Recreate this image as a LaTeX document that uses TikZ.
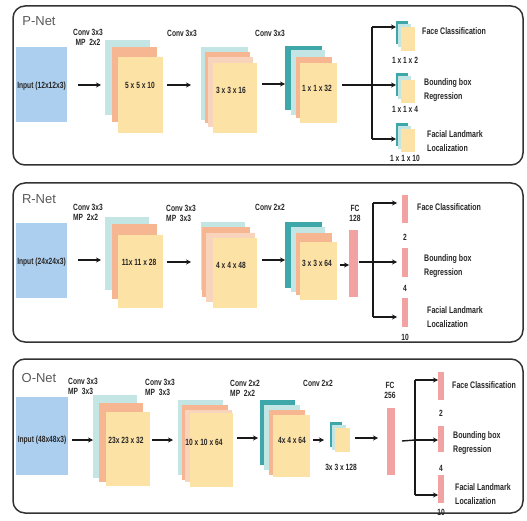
\documentclass[tikz,border=0pt]{standalone}
\usepackage{fontspec}
\setmainfont{Liberation Sans}
\newfontfamily\nf[FakeStretch=0.74]{Liberation Sans}
\usetikzlibrary{arrows.meta}
\definecolor{cy}{HTML}{C3E5E3}
\definecolor{sal}{HTML}{F6B692}
\definecolor{pea}{HTML}{F9D4BC}
\definecolor{fr}{HTML}{FDE2A6}
\definecolor{teal2}{HTML}{3DA7AA}
\definecolor{inb}{HTML}{ADCFEF}
\definecolor{fcp}{HTML}{F3A2A2}
\definecolor{bord}{HTML}{333333}
\tikzset{
 lay/.style={rectangle,draw=none,inner sep=0pt,outer sep=0pt},
 panel/.style={draw=bord,line width=1.5pt,rounded corners=12pt},
 title/.style={font=\fontsize{13}{13}\selectfont,text=black!65,inner sep=0pt},
 txt/.style={font=\nf\bfseries\fontsize{9}{10}\selectfont,text=black!85,inner sep=0pt,align=center},
 outt/.style={font=\nf\bfseries\fontsize{9.5}{14}\selectfont,text=black!85,inner sep=0pt,align=left,anchor=west},
 arr/.style={-{Stealth[length=5pt,width=5pt]},line width=1.6pt,black!90},
 br/.style={line width=1.4pt,black!90},
}
\newcommand\lay[6]{\node[lay,fill=#2,minimum width={(#5)-(#3)},minimum height={(#6)-(#4)}] (#1) at ({((#3)+(#5))/2},{((#4)+(#6))/2}) {};}
\begin{document}
\begin{tikzpicture}[x=1pt,y=-1pt]
\useasboundingbox (0,0) rectangle (527,521);
% ================= P-Net =================
\node[panel,minimum width=510pt,minimum height=159pt,inner sep=0pt] (pp) at (268,85.5) {};
\node[title] (pt) at (39,21) {P-Net};
\lay{pin}{inb}{16}{47}{67}{122}
\node[txt] (pint) at (41.5,86) {Input (12x12x3)};
\node[txt] (pc1) at (88,37) {Conv 3x3\\MP\ \ 2x2};
\lay{p1a}{cy}{105}{40}{150}{115}
\lay{p1b}{sal}{112}{47}{157}{122}
\lay{p1c}{fr}{118}{57}{163}{133}
\node[txt] (p1t) at (140,85) {5 x 5 x 10};
\node[txt] (pc2) at (182,33) {Conv 3x3};
\lay{p2a}{cy}{201}{47}{248}{120}
\lay{p2b}{sal}{205}{52}{250}{123}
\lay{p2c}{pea}{208}{57}{253}{127}
\lay{p2d}{fr}{213}{63}{257}{133}
\node[txt] (p2t) at (231,90) {3 x 3 x 16};
\node[txt] (pc3) at (270,33) {Conv 3x3};
\lay{p3a}{teal2}{285}{46}{322}{110}
\lay{p3b}{cy}{291}{50}{325}{115}
\lay{p3c}{sal}{296}{57}{332}{118}
\lay{p3d}{fr}{300}{63}{337}{123}
\node[txt] (p3t) at (317,88) {1 x 1 x 32};
\coordinate (pa1s) at (78,85); \coordinate (pa1e) at (101,85);
\coordinate (pa2s) at (167,85); \coordinate (pa2e) at (191,85);
\coordinate (pa3s) at (262,84); \coordinate (pa3e) at (285,84);
\draw[arr] (pa1s) -- (pa1e);
\draw[arr] (pa2s) -- (pa2e);
\draw[arr] (pa3s) -- (pa3e);
\coordinate (pbs) at (342,85); \coordinate (pbm) at (372,85);
\coordinate (pbt) at (372,27); \coordinate (pbb) at (372,139);
\coordinate (pot) at (396,27); \coordinate (pom) at (396,85); \coordinate (pob) at (396,139);
\draw[br] (pbs) -- (pbm);
\draw[br] (pbt) -- (pbb);
\draw[arr] (pbt) -- (pot);
\draw[arr] (pbm) -- (pom);
\draw[arr] (pbb) -- (pob);
\lay{po1a}{teal2}{396}{21}{408}{44}
\lay{po1b}{cy}{398}{24}{411}{47}
\lay{po1c}{fr}{401}{27}{415}{51}
\lay{po2a}{teal2}{396}{73}{408}{96}
\lay{po2b}{cy}{398}{76}{411}{99}
\lay{po2c}{fr}{401}{80}{415}{103}
\lay{po3a}{teal2}{396}{123}{408}{146}
\lay{po3b}{cy}{398}{126}{411}{149}
\lay{po3c}{fr}{401}{129}{415}{152}
\node[txt] (pd1) at (405,60) {1 x 1 x 2};
\node[txt] (pd2) at (405,109) {1 x 1 x 4};
\node[txt] (pd3) at (405,158) {1 x 1 x 10};
\node[outt] (pf1) at (422,31) {Face Classification};
\node[outt] (pf2) at (424,90) {Bounding box\\Regression};
\node[outt] (pf3) at (427,141) {Facial Landmark\\Localization};
% ================= R-Net =================
\node[panel,minimum width=510pt,minimum height=159pt,inner sep=0pt] (rp) at (268,262.5) {};
\node[title] (rt) at (39,199) {R-Net};
\lay{rin}{inb}{16}{223}{67}{298}
\node[txt] (rint) at (41.5,262) {Input (24x24x3)};
\node[txt,align=left,anchor=west] (rc1) at (73,212) {Conv 3x3\\MP\ \ 2x2};
\lay{r1a}{cy}{105}{217}{149}{290}
\lay{r1b}{sal}{112}{224}{157}{299}
\lay{r1c}{fr}{118}{235}{163}{308}
\node[txt] (r1t) at (139,262) {11x 11 x 28};
\node[txt,align=left,anchor=west] (rc2) at (166,213) {Conv 3x3\\MP\ \ 3x3};
\lay{r2a}{cy}{201}{222}{245}{290}
\lay{r2b}{sal}{202}{227}{250}{297}
\lay{r2c}{pea}{206}{233}{255}{302}
\lay{r2d}{fr}{213}{238}{257}{308}
\node[txt] (r2t) at (231,265) {4 x 4 x 48};
\node[txt] (rc3) at (270,207) {Conv 2x2};
\lay{r3a}{teal2}{285}{222}{322}{288}
\lay{r3b}{cy}{291}{227}{325}{292}
\lay{r3c}{sal}{296}{233}{332}{295}
\lay{r3d}{fr}{300}{242}{337}{300}
\node[txt] (r3t) at (317,263) {3 x 3 x 64};
\lay{rfc}{fcp}{349}{230}{358}{297}
\node[txt] (rfct) at (355,213) {FC\\128};
\coordinate (ra1s) at (78,260); \coordinate (ra1e) at (101,260);
\coordinate (ra2s) at (167,262); \coordinate (ra2e) at (191,262);
\coordinate (ra3s) at (262,260); \coordinate (ra3e) at (285,260);
\coordinate (ra4s) at (340,265); \coordinate (ra4e) at (349,265);
\draw[arr] (ra1s) -- (ra1e);
\draw[arr] (ra2s) -- (ra2e);
\draw[arr] (ra3s) -- (ra3e);
\draw[arr] (ra4s) -- (ra4e);
\coordinate (rbs) at (359,262); \coordinate (rbm) at (373,262);
\coordinate (rbt) at (373,203); \coordinate (rbb) at (373,317);
\coordinate (rot) at (397,203); \coordinate (rom) at (397,262); \coordinate (rob) at (397,317);
\draw[br] (rbs) -- (rbm);
\draw[br] (rbt) -- (rbb);
\draw[arr] (rbt) -- (rot);
\draw[arr] (rbm) -- (rom);
\draw[arr] (rbb) -- (rob);
\lay{ro1}{fcp}{402}{195}{408}{223}
\lay{ro2}{fcp}{402}{248}{408}{277}
\lay{ro3}{fcp}{402}{298}{408}{327}
\node[txt] (rd1) at (405,237) {2};
\node[txt] (rd2) at (405,288) {4};
\node[txt] (rd3) at (405,337) {10};
\node[outt] (rf1) at (417,207) {Face Classification};
\node[outt] (rf2) at (424,266) {Bounding box\\Regression};
\node[outt] (rf3) at (427,317) {Facial Landmark\\Localization};
% ================= O-Net =================
\node[panel,minimum width=510pt,minimum height=154pt,inner sep=0pt] (op) at (268,436) {};
\node[title] (ot) at (39,378) {O-Net};
\lay{oin}{inb}{16}{397}{68}{475}
\node[txt] (oint) at (42,440) {Input (48x48x3)};
\node[txt,align=left,anchor=west] (oc1) at (68,386) {Conv 3x3\\MP\ \ 3x3};
\lay{o1a}{cy}{93}{395}{137}{478}
\lay{o1b}{sal}{99}{403}{143}{482}
\lay{o1c}{fr}{106}{412}{150}{486}
\node[txt] (o1t) at (126,440) {23x 23 x 32};
\node[txt,align=left,anchor=west] (oc2) at (145,387) {Conv 3x3\\MP\ \ 3x3};
\lay{o2a}{cy}{178}{400}{223}{475}
\lay{o2b}{sal}{182}{405}{228}{480}
\lay{o2c}{pea}{185}{410}{232}{482}
\lay{o2d}{fr}{190}{413}{233}{487}
\node[txt] (o2t) at (204,442) {10 x 10 x 64};
\node[txt,align=left,anchor=west] (oc3) at (230,388) {Conv 2x2\\MP\ \ 2x2};
\lay{o3a}{teal2}{260}{400}{295}{465}
\lay{o3b}{cy}{264}{405}{300}{470}
\lay{o3c}{sal}{269}{410}{305}{475}
\lay{o3d}{fr}{273}{415}{310}{477}
\node[txt] (o3t) at (292,440) {4x 4 x 64};
\node[txt] (oc4) at (318,383) {Conv 2x2};
\lay{o4a}{teal2}{330}{422}{342}{447}
\lay{o4b}{cy}{332}{425}{346}{450}
\lay{o4c}{fr}{335}{428}{350}{452}
\node[txt] (o4t) at (341,467) {3x 3 x 128};
\lay{ofc}{fcp}{387}{408}{395}{475}
\node[txt] (ofct) at (390,390) {FC\\256};
\coordinate (oa1s) at (72,440); \coordinate (oa1e) at (93,440);
\coordinate (oa2s) at (152,440); \coordinate (oa2e) at (173,440);
\coordinate (oa3s) at (237,438); \coordinate (oa3e) at (258,438);
\coordinate (oa4s) at (313,440); \coordinate (oa4e) at (324,440);
\coordinate (oa5s) at (355,438); \coordinate (oa5e) at (378,438);
\draw[arr] (oa1s) -- (oa1e);
\draw[arr] (oa2s) -- (oa2e);
\draw[arr] (oa3s) -- (oa3e);
\draw[arr] (oa4s) -- (oa4e);
\draw[arr] (oa5s) -- (oa5e);
\coordinate (obs) at (402,441); \coordinate (obm) at (415,440);
\coordinate (obt) at (415,380); \coordinate (obb) at (415,495);
\coordinate (oot) at (438,380); \coordinate (oom) at (438,440); \coordinate (oob) at (438,495);
\draw[br] (obs) -- (obm);
\draw[br] (obt) -- (obb);
\draw[arr] (obt) -- (oot);
\draw[arr] (obm) -- (oom);
\draw[arr] (obb) -- (oob);
\lay{oo1}{fcp}{438}{372}{444}{400}
\lay{oo2}{fcp}{438}{426}{444}{452}
\lay{oo3}{fcp}{438}{475}{444}{503}
\node[txt] (od1) at (441,413) {2};
\node[txt] (od2) at (441,468) {4};
\node[txt] (od3) at (441,512) {10};
\node[outt] (of1) at (452,385) {Face Classification};
\node[outt] (of2) at (453,443) {Bounding box\\Regression};
\node[outt] (of3) at (455,494) {Facial Landmark\\Localization};
\end{tikzpicture}
\end{document}
